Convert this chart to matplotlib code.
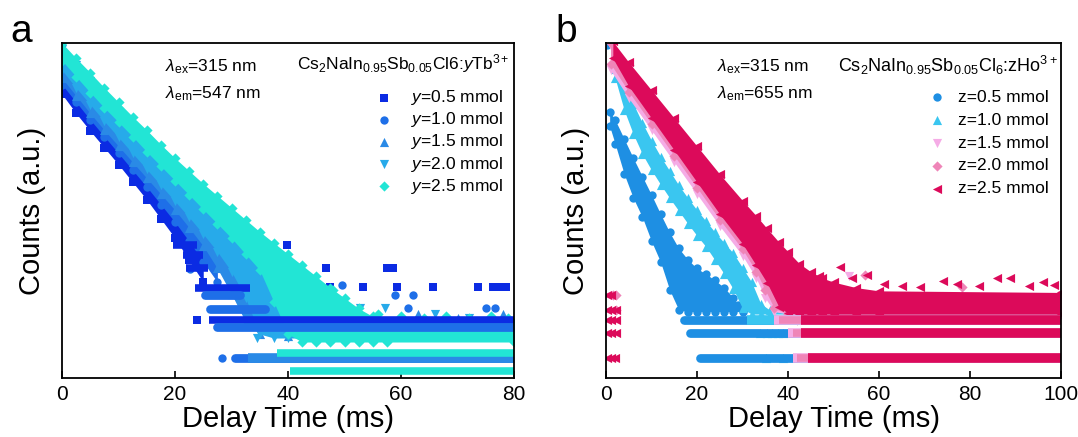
import numpy as np
import matplotlib
matplotlib.use('Agg')
import matplotlib.pyplot as plt

plt.rcParams['font.family'] = ['Liberation Sans', 'DejaVu Sans']
plt.rcParams['mathtext.fontset'] = 'custom'
plt.rcParams['mathtext.rm'] = 'Liberation Sans'
plt.rcParams['mathtext.it'] = 'Liberation Sans:italic'
plt.rcParams['mathtext.bf'] = 'Liberation Sans:bold'

# all "v" / "hi" / "lo" values are log10(counts)
# hi / lo = upper and lower edge of each decay point cloud at the time knots
# rows = (level, t_start, t_end) of the flat noise-floor rows

# ---------------- panel a : Tb3+, em 547 nm ----------------
a_title = r'Cs$_2$NaIn$_{0.95}$Sb$_{0.05}$Cl6:$y$Tb$^{3+}$'
a_labels = [r'$y$=0.5 mmol', r'$y$=1.0 mmol', r'$y$=1.5 mmol', r'$y$=2.0 mmol', r'$y$=2.5 mmol']
a_colors = ['#0b2be3', '#1e6fe8', '#2a8ae6', '#27aaea', '#22e5d5']
a_markers = ['s', 'o', '^', 'v', 'D']

a05_t = [0, 2.5, 5, 7.5, 10, 12.5, 15, 17.5, 20, 22.5, 25]
a05_hi = [3.62, 3.4, 3.18, 2.96, 2.75, 2.54, 2.34, 2.14, 1.94, 1.72, 1.45]
a05_lo = [3.3, 3.06, 2.84, 2.63, 2.42, 2.2, 1.98, 1.74, 1.5, 1.22, 0.95]
a05_rows = [(1.41, 19.7, 23.9), (1.29, 21.4, 25.0), (1.12, 22.0, 25.9), (0.88, 23.5, 33.3), (0.48, 26.0, 80)]
a05_pt_t = [23.9, 35.9, 39.8, 41.2, 46.8, 57.5, 58.6, 47.5, 53.3, 59.3, 65.7, 73.6, 76.3, 77.4, 78.5]
a05_pt_v = [0.48, 1.41, 1.41, 1.12, 1.12, 1.12, 1.12, 0.89, 0.89, 0.89, 0.89, 0.89, 0.89, 0.89, 0.89]

a10_t = [0, 2.5, 5, 7.5, 10, 12.5, 15, 17.5, 20, 22.5, 25, 27.5]
a10_hi = [3.75, 3.53, 3.32, 3.12, 2.93, 2.74, 2.55, 2.36, 2.17, 1.97, 1.76, 1.5]
a10_lo = [3.42, 3.2, 2.98, 2.77, 2.56, 2.35, 2.14, 1.92, 1.7, 1.46, 1.2, 0.95]
a10_rows = [(0.79, 25.3, 31.5), (0.61, 26.2, 36.0), (0.39, 27.4, 80), (0.0, 30.6, 80)]
a10_pt_t = [22.7, 28.3, 49.5, 59.0, 62.2, 61.2, 75.0, 76.6]
a10_pt_v = [1.11, 0.0, 0.91, 0.79, 0.79, 0.62, 0.62, 0.62]

a15_t = [0, 2.5, 5, 7.5, 10, 12.5, 15, 17.5, 20, 22.5, 25, 27.5, 30, 32.5, 35, 40, 80]
a15_hi = [3.82, 3.61, 3.4, 3.2, 3.01, 2.82, 2.64, 2.46, 2.28, 2.1, 1.91, 1.72, 1.5, 1.25, 0.95, 0.42, 0.4]
a15_lo = [3.5, 3.28, 3.06, 2.85, 2.65, 2.45, 2.25, 2.05, 1.85, 1.63, 1.4, 1.12, 0.8, 0.45, 0.3, 0.28, 0.28]
a15_rows = [(0.0, 33.0, 80)]
a15_pt_t = [30.5, 33.5, 43.0, 49.0, 55.0, 63.0, 70.0, 78.0]
a15_pt_v = [0.95, 0.62, 0.58, 0.55, 0.52, 0.55, 0.5, 0.55]

a20_t = [0, 2.5, 5, 7.5, 10, 12.5, 15, 17.5, 20, 22.5, 25, 27.5, 30, 32.5, 35, 37.5, 40, 45, 80]
a20_hi = [3.86, 3.66, 3.46, 3.27, 3.08, 2.9, 2.72, 2.54, 2.36, 2.18, 2.0, 1.82, 1.63, 1.44, 1.24, 1.0, 0.75, 0.42, 0.4]
a20_lo = [3.6, 3.38, 3.17, 2.96, 2.76, 2.56, 2.36, 2.16, 1.96, 1.76, 1.55, 1.33, 1.08, 0.75, 0.3, 0.25, 0.25, 0.25, 0.25]
a20_rows = []
a20_pt_t = [34.5, 38.0, 44.0, 52.8, 57.2, 66.0, 72.0]
a20_pt_v = [0.25, 0.92, 0.72, 0.62, 0.62, 0.55, 0.5]

a25_t = [0, 2.5, 5, 7.5, 10, 12.5, 15, 17.5, 20, 22.5, 25, 27.5, 30, 32.5, 35, 37.5, 40, 42.5, 45, 47.5, 50, 52.5, 55, 57.5, 80]
a25_hi = [3.94, 3.75, 3.57, 3.38, 3.2, 3.02, 2.85, 2.67, 2.5, 2.34, 2.18, 2.03, 1.88, 1.73, 1.58, 1.44, 1.3, 1.16, 1.02, 0.88, 0.75, 0.62, 0.52, 0.45, 0.44]
a25_lo = [3.72, 3.52, 3.32, 3.13, 2.95, 2.77, 2.58, 2.4, 2.22, 2.04, 1.86, 1.68, 1.5, 1.3, 1.1, 0.7, 0.3, 0.2, 0.2, 0.2, 0.2, 0.2, 0.2, 0.2, 0.2]
a25_rows = [(0.06, 38.0, 80), (-0.16, 40.4, 80)]
a25_pt_t = [48.0, 56.0, 60.0, 64.0, 68.0, 72.0, 76.0, 79.0]
a25_pt_v = [0.85, 0.55, 0.52, 0.5, 0.53, 0.5, 0.52, 0.5]

# ---------------- panel b : Ho3+, em 655 nm ----------------
b_title = r'Cs$_2$NaIn$_{0.95}$Sb$_{0.05}$Cl$_6$:zHo$^{3+}$'
b_labels = ['z=0.5 mmol', 'z=1.0 mmol', 'z=1.5 mmol', 'z=2.0 mmol', 'z=2.5 mmol']
b_colors = ['#1e8fe3', '#3ac6f0', '#f5ace6', '#ef85b8', '#dc0a5a']
b_markers = ['o', '^', 'v', 'D', '<']

b05_t = [0.8, 2, 4, 6, 8, 10, 12, 14, 16, 18, 20, 22, 24, 26, 28, 30, 100]
b05_hi = [3.08, 2.98, 2.74, 2.5, 2.27, 2.04, 1.8, 1.57, 1.37, 1.23, 1.12, 1.05, 0.97, 0.88, 0.75, 0.6, 0.6]
b05_lo = [2.9, 2.68, 2.3, 2.0, 1.76, 1.46, 1.2, 0.85, 0.6, 0.58, 0.58, 0.58, 0.58, 0.58, 0.58, 0.58, 0.58]
b05_rows = [(0.475, 17.2, 100), (0.31, 18.4, 100), (0.0, 20.7, 100)]
b05_pt_t = [0.3, 24.5, 26.7, 29.0]
b05_pt_v = [3.92, 0.8, 0.69, 0.66]

b10_t = [2, 4, 6, 8, 10, 12, 14, 16, 18, 20, 22, 24, 26, 28, 30, 32, 34, 36, 100]
b10_hi = [3.62, 3.42, 3.18, 2.94, 2.72, 2.52, 2.34, 2.16, 2.0, 1.85, 1.71, 1.57, 1.44, 1.31, 1.13, 0.95, 0.68, 0.6, 0.6]
b10_lo = [3.5, 3.1, 2.8, 2.55, 2.35, 2.17, 2.0, 1.84, 1.68, 1.53, 1.39, 1.22, 1.05, 0.86, 0.62, 0.55, 0.55, 0.55, 0.55]
b10_rows = [(0.475, 31.0, 100)]
b10_pt_t = [33.8, 35.3, 36.5, 37.7, 38.9, 35.2, 38.9]
b10_pt_v = [0.31, 0.31, 0.31, 0.31, 0.31, 0.0, 0.0]

b15_t = [1, 5, 10, 15, 20, 25, 30, 33, 35, 37, 40, 45, 100]
b15_hi = [3.9, 3.62, 3.27, 2.92, 2.57, 2.22, 1.88, 1.68, 1.5, 1.3, 0.95, 0.78, 0.76]
b15_lo = [3.6, 3.25, 2.85, 2.45, 2.05, 1.65, 1.28, 1.0, 0.75, 0.58, 0.55, 0.55, 0.55]
b15_rows = [(0.475, 37, 100), (0.31, 40, 100), (0.0, 41, 100)]
b15_pt_t = [53.3, 45.0, 42.0, 44.2]
b15_pt_v = [1.02, 0.95, 0.0, 0.0]

b20_t = [1, 5, 10, 15, 20, 25, 30, 33, 35, 37, 40, 45, 100]
b20_hi = [3.94, 3.66, 3.31, 2.96, 2.61, 2.26, 1.92, 1.72, 1.55, 1.35, 1.05, 0.8, 0.78]
b20_lo = [3.68, 3.33, 2.93, 2.53, 2.13, 1.73, 1.36, 1.08, 0.85, 0.62, 0.55, 0.55, 0.55]
b20_rows = [(0.475, 38, 100), (0.31, 41, 100), (0.0, 42, 100)]
b20_pt_t = [56.9, 78.3, 42.0, 1.5, 2.2, 2.2]
b20_pt_v = [1.04, 0.89, 0.475, 0.79, 0.79, 0.6]

b25_t = [1.5, 5, 10, 15, 20, 25, 30, 33, 35.4, 38, 40, 42.5, 45, 47.5, 50, 55, 60, 100]
b25_hi = [3.96, 3.7, 3.35, 3.0, 2.65, 2.3, 1.97, 1.78, 1.62, 1.45, 1.33, 1.18, 1.08, 1.0, 0.95, 0.88, 0.84, 0.82]
b25_lo = [3.75, 3.4, 3.0, 2.6, 2.2, 1.8, 1.43, 1.16, 0.94, 0.64, 0.56, 0.55, 0.55, 0.55, 0.55, 0.55, 0.55, 0.55]
b25_rows = [(0.475, 42.8, 100), (0.31, 42.8, 100), (0.0, 44.3, 100)]
b25_pt_t = [0.2, 1.2, 0.2, 1.2, 2.2, 0.2, 1.2, 2.2, 0.2, 1.2, 2.2, 0.2, 1.2, 2.0,
            46.9, 51.4, 54.0, 57.3, 61.0, 65.0, 69.1, 74.0, 77.1, 82.0, 86.0, 88.9, 93.0, 96.0, 98.4]
b25_pt_v = [0.79, 0.79, 0.6, 0.6, 0.6, 0.475, 0.475, 0.475, 0.31, 0.31, 0.31, 0.0, 0.0, 0.0,
            1.02, 1.14, 1.0, 1.04, 0.92, 0.9, 0.89, 0.96, 0.93, 0.9, 1.0, 1.0, 0.9, 0.95, 0.91]

msize = {'s': 5.2, 'o': 6.0, '^': 6.6, 'v': 6.6, 'D': 5.2, '<': 6.6}


def draw_series(ax, t, hi, lo, rows, pt_t, pt_v, color, marker, label):
    ms = msize[marker]
    hi = 10 ** np.asarray(hi, float)
    lo = 10 ** np.asarray(lo, float)
    ax.fill_between(t, lo, hi, color=color, lw=0)
    ax.scatter(t, hi, s=ms ** 2, marker=marker, color=color, lw=0)
    ax.scatter(t, lo, s=ms ** 2, marker=marker, color=color, lw=0)
    for lev, t0, t1 in rows:
        ln = ax.hlines(10 ** lev, t0, t1, colors=color, lw=ms * 1.05)
        ln.set_capstyle('round' if marker == 'o' else 'butt')
    ax.scatter(pt_t, 10 ** np.asarray(pt_v, float), s=ms ** 2, marker=marker,
               color=color, lw=0, label=label)


def style_axes(ax, xmax, xticks):
    ax.set_yscale('log')
    ax.set_ylim(10 ** -0.25, 10 ** 3.94)
    ax.set_xlim(0, xmax)
    ax.set_xticks(xticks)
    ax.tick_params(axis='x', direction='in', length=5, width=1.2, labelsize=15, pad=5)
    ax.tick_params(axis='y', which='both', left=False, labelleft=False)
    for sp in ax.spines.values():
        sp.set_linewidth(1.3)
    ax.set_xlabel('Delay Time (ms)', fontsize=21, labelpad=1)
    ax.set_ylabel('Counts (a.u.)', fontsize=21)
    ax.yaxis.set_label_coords(-0.035, 0.5)


fig = plt.figure(figsize=(10.78, 4.37), dpi=100)
ax_a = fig.add_axes([62 / 1078, 59 / 437, 452 / 1078, 335 / 437])
ax_b = fig.add_axes([606 / 1078, 59 / 437, 455 / 1078, 335 / 437])

a_data = [
    (a05_t, a05_hi, a05_lo, a05_rows, a05_pt_t, a05_pt_v),
    (a10_t, a10_hi, a10_lo, a10_rows, a10_pt_t, a10_pt_v),
    (a15_t, a15_hi, a15_lo, a15_rows, a15_pt_t, a15_pt_v),
    (a20_t, a20_hi, a20_lo, a20_rows, a20_pt_t, a20_pt_v),
    (a25_t, a25_hi, a25_lo, a25_rows, a25_pt_t, a25_pt_v),
]
b_data = [
    (b05_t, b05_hi, b05_lo, b05_rows, b05_pt_t, b05_pt_v),
    (b10_t, b10_hi, b10_lo, b10_rows, b10_pt_t, b10_pt_v),
    (b15_t, b15_hi, b15_lo, b15_rows, b15_pt_t, b15_pt_v),
    (b20_t, b20_hi, b20_lo, b20_rows, b20_pt_t, b20_pt_v),
    (b25_t, b25_hi, b25_lo, b25_rows, b25_pt_t, b25_pt_v),
]

for d, c, m, lab in zip(a_data, a_colors, a_markers, a_labels):
    draw_series(ax_a, *d, c, m, lab)
for d, c, m, lab in zip(b_data, b_colors, b_markers, b_labels):
    draw_series(ax_b, *d, c, m, lab)

style_axes(ax_a, 80, [0, 20, 40, 60, 80])
style_axes(ax_b, 100, [0, 20, 40, 60, 80, 100])

ax_a.text(0.228, 0.929, r'$\lambda_{\rm ex}$=315 nm', transform=ax_a.transAxes, fontsize=12.5, va='center')
ax_a.text(0.228, 0.85, r'$\lambda_{\rm em}$=547 nm', transform=ax_a.transAxes, fontsize=12.5, va='center')
ax_b.text(0.243, 0.929, r'$\lambda_{\rm ex}$=315 nm', transform=ax_b.transAxes, fontsize=12.5, va='center')
ax_b.text(0.243, 0.85, r'$\lambda_{\rm em}$=655 nm', transform=ax_b.transAxes, fontsize=12.5, va='center')

ax_a.text(0.99, 0.94, a_title, transform=ax_a.transAxes, ha='right', va='center', fontsize=12.5)
ax_b.text(0.993, 0.934, b_title, transform=ax_b.transAxes, ha='right', va='center', fontsize=13)

ax_a.legend(loc='upper right', bbox_to_anchor=(0.975, 0.865), frameon=False, fontsize=12.5,
            handletextpad=1.05, labelspacing=0.18, borderaxespad=0, borderpad=0,
            handlelength=1.0, scatterpoints=1)
ax_b.legend(loc='upper right', bbox_to_anchor=(0.973, 0.86), frameon=False, fontsize=12.5,
            handletextpad=0.7, labelspacing=0.44, borderaxespad=0, borderpad=0,
            handlelength=1.0, scatterpoints=1)

fig.text(10 / 1078, 1 - 42 / 437, 'a', fontsize=28, va='baseline')
fig.text(555 / 1078, 1 - 42 / 437, 'b', fontsize=28, va='baseline')

fig.savefig('out.png', dpi=100)
